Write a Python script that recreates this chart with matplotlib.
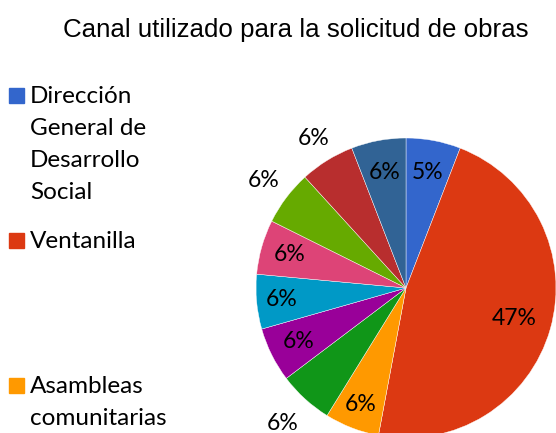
import matplotlib.pyplot as plt
import numpy as np
from matplotlib.patches import Rectangle

# data
valores = [1, 8, 1, 1, 1, 1, 1, 1, 1, 1]
etiquetas = ["5%", "47%", "6%", "6%", "6%", "6%", "6%", "6%", "6%", "6%"]
colores = ["#3366CC", "#DC3912", "#FF9900", "#109618", "#990099",
           "#0099C6", "#DD4477", "#66AA00", "#B82E2E", "#316395"]
leyenda = [["Dirección", "General de", "Desarrollo", "Social"],
           ["Ventanilla"],
           ["Asambleas", "comunitarias"]]

# label distance per slice (fraction of radius)
dist = [0.78, 0.75, 0.83, 1.22, 0.80, 0.83, 0.81, 1.19, 1.17, 0.78]

W, H = 556, 433
fig = plt.figure(figsize=(W / 100, H / 100), dpi=100)

cx, cy, r = 406, 288, 150
ax = fig.add_axes([(cx - r) / W, (H - cy - r) / H, 2 * r / W, 2 * r / H])
wedges, _ = ax.pie(valores, colors=colores, startangle=90, counterclock=False,
                   wedgeprops=dict(edgecolor="white", linewidth=0.3))
ax.set_xlim(-1, 1)
ax.set_ylim(-1, 1)
ax.set_aspect("equal")
ax.axis("off")

for w, lab, d in zip(wedges, etiquetas, dist):
    ang = np.deg2rad((w.theta1 + w.theta2) / 2)
    ax.text(d * np.cos(ang), d * np.sin(ang), lab, ha="center", va="center",
            fontsize=16.5, family="Lato", color="black")

fig.text(296 / W, 1 - 37 / H, "Canal utilizado para la solicitud de obras",
         ha="center", va="baseline", fontsize=18.6, family="Liberation Sans")

# legend (truncated like the original)
ytops = [88, 233, 378]
for lineas, col, yt in zip(leyenda, colores[:3], ytops):
    fig.patches.append(Rectangle((9 / W, 1 - (yt + 15) / H), 15 / W, 15 / H,
                                 transform=fig.transFigure, color=col))
    for i, t in enumerate(lineas):
        fig.text(30 / W, 1 - (yt + 15 + 32 * i) / H, t, ha="left",
                 va="baseline", fontsize=17.5, family="Lato")

fig.savefig("out.png", dpi=100)
